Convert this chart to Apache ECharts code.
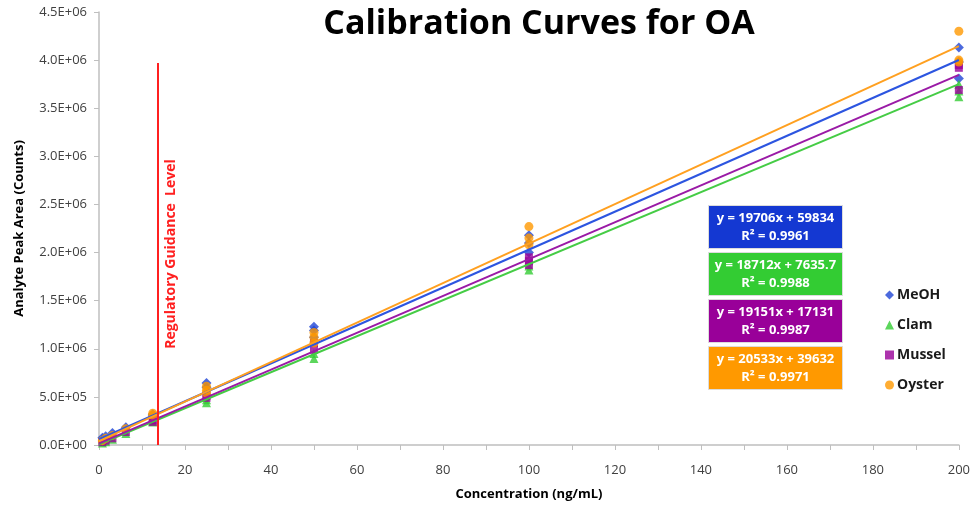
<!DOCTYPE html>
<html>
<head>
<meta charset="utf-8">
<script src="https://cdn.jsdelivr.net/npm/echarts@6/dist/echarts.min.js"></script>
<style>
html,body{margin:0;padding:0;background:#fff;}
#chart{width:973px;height:508px;}
</style>
</head>
<body>
<div id="chart"></div>
<script>
// ---- data ----
const seriesNames = ['MeOH', 'Clam', 'Mussel', 'Oyster'];
const meohX = [0.78, 1.56, 3.13, 6.25, 12.5, 12.5, 25, 25, 50, 50, 50, 100, 100, 100, 200, 200, 200];
const meohY = [75000, 90000, 125000, 185000, 320000, 305000, 645000, 600000, 1230000, 1120000, 1190000, 2180000, 2000000, 2100000, 4130000, 3810000, 3980000];
const clamX = [0.78, 1.56, 3.13, 6.25, 12.5, 12.5, 25, 25, 50, 50, 100, 100, 200, 200, 200];
const clamY = [20000, 35000, 60000, 120000, 240000, 250000, 440000, 470000, 900000, 950000, 1820000, 1860000, 3620000, 3680000, 3750000];
const musselX = [0.78, 1.56, 3.13, 6.25, 12.5, 12.5, 25, 25, 50, 50, 100, 100, 100, 200, 200, 200];
const musselY = [30000, 45000, 70000, 135000, 240000, 260000, 490000, 510000, 990000, 1060000, 1870000, 1950000, 1910000, 3920000, 3690000, 3950000];
const oysterX = [0.78, 1.56, 3.13, 6.25, 12.5, 12.5, 25, 25, 25, 50, 50, 50, 100, 100, 100, 200, 200, 200];
const oysterY = [45000, 70000, 100000, 170000, 330000, 310000, 610000, 570000, 540000, 1170000, 1120000, 1060000, 2270000, 2150000, 2080000, 4300000, 4000000, 3980000];
const slopes = [19706, 18712, 19151, 20533];
const intercepts = [59834, 7635.7, 17131, 39632];
const r2 = ['0.9961', '0.9988', '0.9987', '0.9971'];
const fitRange = [0, 200];
const guidanceX = 13.7;
const guidanceTop = 3970000;
const xTicks = [0, 20, 40, 60, 80, 100, 120, 140, 160, 180, 200];

// ---- styles ----
const markerColors = ['#1f45d4', '#33cc33', '#990099', '#ff9900'];
const lineColors = ['#2c55e0', '#45cc45', '#9a1aa6', '#ffa020'];
const boxColors = ['#1438d2', '#33cc33', '#990099', '#ff9900'];
const symbols = ['diamond', 'triangle', 'rect', 'circle'];
const symbolSizes = [10, 9, 8, 9];
const FONT = '"Open Sans", "Liberation Sans", sans-serif';

const xs = [meohX, clamX, musselX, oysterX];
const ys = [meohY, clamY, musselY, oysterY];

function sci(v) {
  if (v === 0) return '0.0E+00';
  const e = Math.floor(Math.log10(v) + 1e-9);
  const m = v / Math.pow(10, e);
  return m.toFixed(1) + 'E+' + String(e).padStart(2, '0');
}

const series = [];
seriesNames.forEach((n, i) => {
  series.push({
    name: n, type: 'scatter', symbol: symbols[i], symbolSize: symbolSizes[i],
    itemStyle: { color: markerColors[i] }, z: 3,
    data: xs[i].map((x, k) => [x, ys[i][k]])
  });
});
seriesNames.forEach((n, i) => {
  series.push({
    name: n + ' fit', type: 'line', showSymbol: false, symbol: 'none', z: 4,
    lineStyle: { color: lineColors[i], width: 2 }, silent: true,
    data: fitRange.map(x => [x, slopes[i] * x + intercepts[i]])
  });
});
series.push({
  name: 'guidance', type: 'line', data: [], z: 2,
  markLine: {
    silent: true, symbol: ['none', 'none'],
    lineStyle: { color: '#ff2020', width: 2, type: 'solid' },
    label: {
      show: true, position: 'insideMiddleBottom', formatter: 'Regulatory Guidance  Level',
      color: '#ff2020', fontFamily: FONT, fontWeight: 'bold', fontSize: 14, distance: 6
    },
    data: [[{ coord: [guidanceX, 0] }, { coord: [guidanceX, guidanceTop] }]]
  }
});

const boxTops = [205, 252, 299, 346];
const graphics = seriesNames.map((n, i) => ({
  type: 'group', left: 708, top: boxTops[i], z: 10,
  children: [
    {
      type: 'rect', shape: { x: 0, y: 0, width: 134, height: 43 },
      style: { fill: boxColors[i], stroke: '#dcdcdc', lineWidth: 1 }
    },
    {
      type: 'text', x: 67, y: 4,
      style: {
        text: 'y = ' + slopes[i] + 'x + ' + intercepts[i] + '\nR² = ' + r2[i],
        fill: '#fff', font: 'bold 13px ' + FONT, textAlign: 'center', align: 'center',
        textVerticalAlign: 'top', verticalAlign: 'top', lineHeight: 18
      }
    }
  ]
}));

const chart = echarts.init(document.getElementById('chart'), null, { renderer: 'canvas' });
chart.setOption({
  animation: false,
  backgroundColor: '#fff',
  title: {
    text: 'Calibration Curves for OA', left: 534, top: 2, textAlign: 'center',
    textStyle: { fontFamily: FONT, fontWeight: 'bold', fontSize: 34, color: '#000' }
  },
  legend: {
    orient: 'vertical', left: 880, top: 283, itemGap: 16, itemWidth: 9, itemHeight: 9,
    data: seriesNames.map((n, i) => ({ name: n, icon: symbols[i] })),
    textStyle: { fontFamily: FONT, fontWeight: 'bold', fontSize: 14, color: '#1a1a1a', padding: [0, 0, 0, -2] }
  },
  grid: { left: 99, right: 14, top: 12, bottom: 63, containLabel: false },
  xAxis: {
    type: 'value', min: 0, max: 200, interval: 10,
    name: 'Concentration (ng/mL)', nameLocation: 'middle', nameGap: 43,
    nameTextStyle: { fontFamily: FONT, fontWeight: 'bold', fontSize: 13, color: '#000' },
    axisLine: { show: true, lineStyle: { color: '#bfbfbf', width: 1.5 } },
    axisTick: { show: true, length: 5, lineStyle: { color: '#bfbfbf' } },
    axisLabel: {
      margin: 19, fontFamily: FONT, fontSize: 13, color: '#404040',
      formatter: v => (xTicks.indexOf(v) >= 0 ? String(v) : '')
    },
    splitLine: { show: false }
  },
  yAxis: {
    type: 'value', min: 0, max: 4500000, interval: 500000,
    name: 'Analyte Peak Area (Counts)', nameLocation: 'middle', nameGap: 73, nameRotate: 90,
    nameTextStyle: { fontFamily: FONT, fontWeight: 'bold', fontSize: 13, color: '#000' },
    axisLine: { show: true, lineStyle: { color: '#bfbfbf', width: 1.5 } },
    axisTick: { show: true, length: 5, lineStyle: { color: '#bfbfbf' } },
    axisLabel: { margin: 12, fontFamily: FONT, fontSize: 13, color: '#404040', formatter: sci },
    splitLine: { show: false }
  },
  graphic: graphics,
  series: series
});
</script>
</body>
</html>
